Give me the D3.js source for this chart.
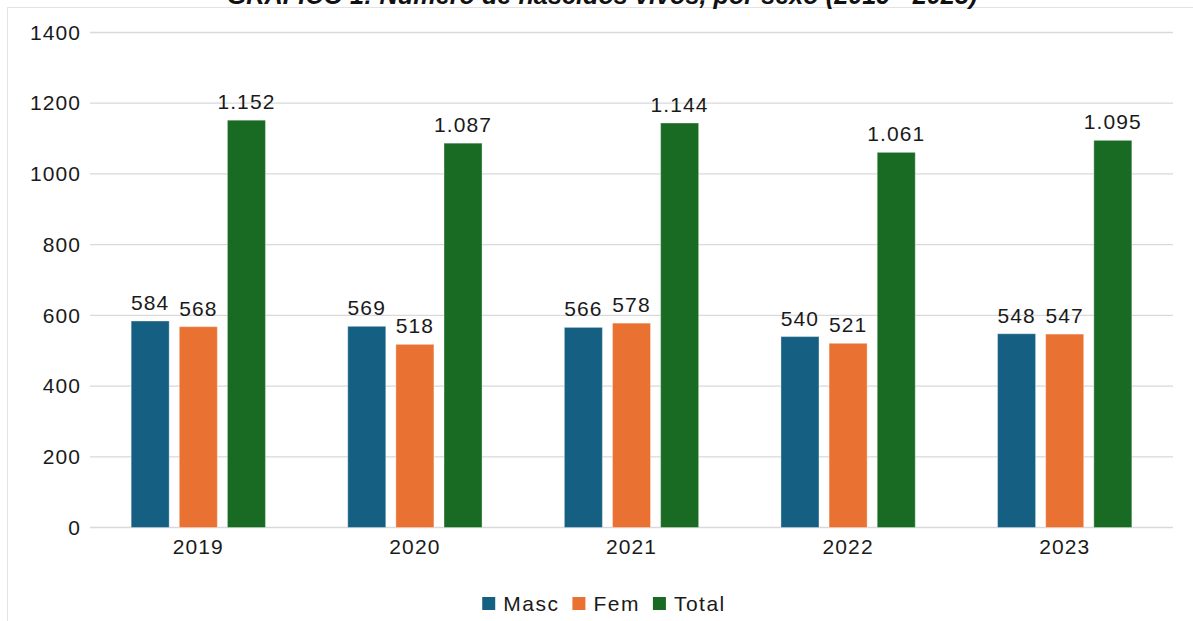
<!DOCTYPE html>
<html>
<head>
<meta charset="utf-8">
<script src="https://cdn.jsdelivr.net/npm/d3@7"></script>
<style>
  html, body { margin: 0; padding: 0; background: #ffffff; }
  svg { display: block; font-family: "Liberation Sans", Arial, sans-serif; }
</style>
</head>
<body>
<svg id="chart" width="1193" height="621"></svg>
<script>
const titleText = "GRÁFICO 1: Número de nascidos vivos, por sexo (2019 - 2023)";
const years = ["2019", "2020", "2021", "2022", "2023"];
const seriesNames = ["Masc", "Fem", "Total"];
const masc = [584, 569, 566, 540, 548];
const fem = [568, 518, 578, 521, 547];
const total = [1152, 1087, 1144, 1061, 1095];
const yTicks = [0, 200, 400, 600, 800, 1000, 1200, 1400];
const colors = ["#156082", "#E97132", "#196B24"];

const seriesValues = [masc, fem, total];
const svg = d3.select("#chart");
const W = 1193, H = 621;
const margin = { left: 90, top: 32.5 };
const plotRight = 1173;
const plotBottom = 527.5;
const FS = 21;
const LS = 1.1;
const txtColor = "#1a1a1a";

// frame
svg.append("rect").attr("x", 7.5).attr("y", 7.5).attr("width", W + 10).attr("height", H + 10)
  .attr("fill", "#ffffff").attr("stroke", "#e3e3e3").attr("stroke-width", 1);

// title (partially cut at top like reference)
const title = svg.append("text").attr("x", 602).attr("y", 4)
  .attr("text-anchor", "middle").attr("font-style", "italic").attr("font-weight", "bold")
  .attr("fill", "#111").attr("font-size", 20).text(titleText);
const tl = title.node().getComputedTextLength();
title.attr("font-size", 20 * 751 / tl);

const x0 = d3.scaleBand().domain(years).range([margin.left, plotRight]).padding(0);
const gp = x0.bandwidth() * 0.19;
const x1 = d3.scaleBand().domain(seriesNames).range([gp, x0.bandwidth() - gp]).paddingInner(0.21).paddingOuter(0);
const y = d3.scaleLinear().domain([0, 1400]).range([plotBottom, margin.top]);

// gridlines
svg.append("g").selectAll("line").data(yTicks).join("line")
  .attr("x1", margin.left).attr("x2", plotRight)
  .attr("y1", d => y(d)).attr("y2", d => y(d))
  .attr("stroke", "#d9d9d9").attr("stroke-width", 1.3);

// y axis labels
const yAxis = d3.axisLeft(y).tickValues(yTicks).tickSize(0).tickPadding(9).tickFormat(d3.format("d"));
const gy = svg.append("g").attr("transform", `translate(${margin.left},0)`).call(yAxis);
gy.select(".domain").remove();
gy.selectAll("text").attr("font-size", FS).attr("fill", txtColor).attr("letter-spacing", LS)
  .attr("font-family", "'Liberation Sans', Arial, sans-serif");

// x axis labels
const xAxis = d3.axisBottom(x0).tickSize(0).tickPadding(12);
const gx = svg.append("g").attr("transform", `translate(0,${plotBottom})`).call(xAxis);
gx.select(".domain").remove();
gx.selectAll("text").attr("font-size", FS).attr("fill", txtColor).attr("letter-spacing", LS)
  .attr("font-family", "'Liberation Sans', Arial, sans-serif");

const fmt = v => v >= 1000 ? d3.format(",")(v).replace(",", ".") : String(v);

// bars
seriesNames.forEach((s, si) => {
  const vals = seriesValues[si];
  const g = svg.append("g");
  g.selectAll("rect").data(years).join("rect")
    .attr("x", d => x0(d) + x1(s))
    .attr("y", (d, i) => y(vals[i]))
    .attr("width", x1.bandwidth())
    .attr("height", (d, i) => plotBottom - y(vals[i]))
    .attr("fill", colors[si])
    .attr("stroke", "rgba(255,255,255,0.35)").attr("stroke-width", 1);
  g.selectAll("text").data(years).join("text")
    .attr("x", d => x0(d) + x1(s) + x1.bandwidth() / 2)
    .attr("y", (d, i) => y(vals[i]) - 11)
    .attr("text-anchor", "middle").attr("font-size", FS).attr("fill", txtColor).attr("letter-spacing", LS)
    .text((d, i) => fmt(vals[i]));
});

// legend
const legend = svg.append("g");
let lx = 0;
seriesNames.forEach((s, i) => {
  const it = legend.append("g");
  it.append("rect").attr("x", 0).attr("y", -14).attr("width", 13).attr("height", 13).attr("fill", colors[i]);
  const t = it.append("text").attr("x", 21).attr("y", 0).attr("font-size", FS).attr("fill", txtColor)
    .attr("letter-spacing", 1.5).text(s);
  const w = 21 + t.node().getComputedTextLength();
  it.attr("transform", `translate(${lx},0)`);
  lx += w + 13;
});
const totalW = lx - 13;
legend.attr("transform", `translate(${604 - totalW / 2},611)`);
</script>
</body>
</html>
